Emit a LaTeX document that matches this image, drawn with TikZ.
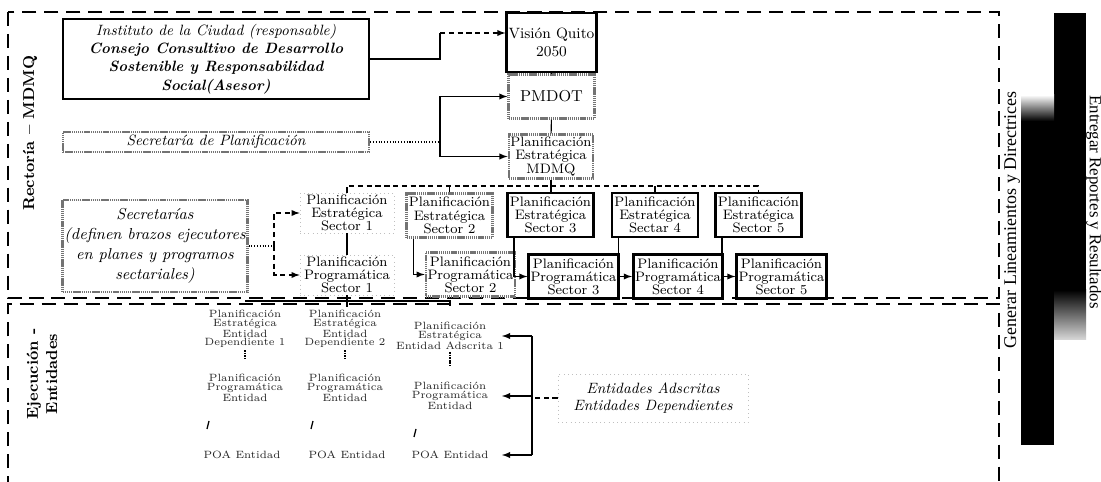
\documentclass[tikz,border=0pt]{standalone}
\usepackage{fontspec}
\newfontfamily\timesfont{Liberation Serif}
\begin{document}
\begin{tikzpicture}[x=0.02cm,y=-0.02cm,
  every node/.style={inner sep=1pt, align=center},
  marco/.style={line width=1.1pt, dash pattern=on 8pt off 4.5pt},
  caja/.style={draw, line width=1.6pt, minimum width=1.72cm, minimum height=0.88cm, font=\fontsize{7.8}{7.5}\selectfont},
  cajagris/.style={caja, draw=black!55, line width=1.3pt, dash pattern=on 0.8pt off 0.4pt},
  cajatenue/.style={caja, draw=black!25, line width=0.4pt, dotted},
  ent/.style={font=\fontsize{6}{4.9}\selectfont, text=black!85},
  linea/.style={line width=0.6pt}]

% fondo y marcos
\fill[white] (0,0) rectangle (1101,482);
\useasboundingbox (0,0) rectangle (1101,482);
\draw[marco] (8,12) rectangle (999,298);
\draw[marco] (8,490) -- (8,304) -- (999,304) -- (999,490);

% barra de la derecha
\fill[black] (1054,13) rectangle (1086,333);
\fill[black] (1021,120) rectangle (1054,445);
\shade[top color=white, bottom color=black] (1021,95) rectangle (1054,121);
\shade[top color=black, bottom color=black!15] (1054,290) rectangle (1086,340);
\node[rotate=90, font=\timesfont\fontsize{10.2}{12}\selectfont] (generar) at (1012,220) {Generar Lineamientos y Directrices};
\node[rotate=-90, font=\timesfont\fontsize{9.6}{12}\selectfont] (entregar) at (1094,202) {Entregar Reportes y Resultados};

% etiquetas laterales
\node[rotate=90, font=\bfseries\fontsize{9}{11}\selectfont] (rectoria) at (30,133) {Rectoría – MDMQ};
\node[rotate=90, font=\bfseries\fontsize{9}{11}\selectfont] (ejecucion) at (42,374) {Ejecución -\\Entidades};

% columna central
\node[caja, font=\fontsize{8.5}{9.8}\selectfont, minimum height=1.18cm] (vision) at (551.5,42.5) {Visión Quito\\2050};
\node[cajagris, font=\fontsize{9}{10}\selectfont] (pmdot) at (551.5,96.5) {PMDOT};
\node[cajagris, minimum width=1.68cm] (mdmq) at (551,156.5) {Planificación\\Estratégica\\MDMQ};

% cajas de la izquierda
\node[caja, minimum width=6.12cm, minimum height=1.6cm, font=\fontsize{8.5}{10.4}\selectfont] (inst) at (216,59)
  {\itshape Instituto de la Ciudad (responsable)\\ \bfseries\itshape Consejo Consultivo de Desarrollo\\
   \bfseries\itshape Sostenible y Responsabilidad\\ \bfseries\itshape Social(Asesor)};
\node[cajagris, minimum width=6.12cm, minimum height=0.4cm, font=\itshape\fontsize{8.5}{10}\selectfont] (secplan) at (216,142) {Secretaría de Planificación};
\node[cajagris, minimum width=3.68cm, minimum height=1.84cm, font=\itshape\fontsize{9}{11.3}\selectfont] (secs) at (155,246)
  {Secretarías\\(definen brazos ejecutores\\en planes y programos\\sectariales)};

% sectores
\node[cajatenue, minimum width=1.88cm, minimum height=0.8cm] (s1) at (347,213) {Planificación\\Estratégica\\Sector 1};
\node[cajatenue, minimum width=1.88cm, minimum height=0.76cm] (p1) at (347,275) {Planificación\\Programática\\Sector 1};
\node[cajagris] (s2) at (449.5,215.5) {Planificación\\Estratégica\\Sector 2};
\node[cajagris] (p2) at (470.5,274.5) {Planificación\\Programática\\Sector 2};
\foreach \n/\x/\etiq in {3/550.5/Sector 3,4/655/Sectar 4,5/758.5/Sector 5}{
  \node[caja] (s\n) at (\x,215) {Planificación\\Estratégica\\\etiq};
  \node[caja] (p\n) at (\x+23,276.5) {Planificación\\Programática\\Sector \n};
}

% conectores de arriba
\coordinate (codo1) at (440,33);
\coordinate (codo2) at (440,142);
\coordinate (codo3) at (274,246);
\coordinate (bus) at (551,186);
\draw[linea] (inst.east) -| (codo1);
\draw[linea, densely dashed, arrows=-latex] (codo1) -- (codo1 -| vision.west);
\draw[linea] (vision) -- (pmdot);
\draw[linea] (pmdot) -- (mdmq);
\draw[linea, densely dotted] (secplan.east) -- (codo2);
\draw[linea, arrows=-latex] (codo2) |- (pmdot.west);
\draw[linea, arrows=-latex] (codo2) |- (mdmq.west);
\draw[linea] (mdmq.south) -- (mdmq.south |- s3.north);
\draw[linea, densely dashed] (s1.north) |- (bus) -| (s5.north);
\foreach \n in {2,4}
  \draw[linea] (s\n.north) -- (s\n.north |- bus);
\foreach \n in {2,...,5}
  \draw[linea, arrows=-latex] ([xshift=4.5pt]s\n.south west) |- (p\n.west);
\draw[linea] (s1) -- (p1);
\draw[linea, densely dotted] (secs.east) -- (codo3);
\draw[linea, densely dashed, arrows=-latex] (codo3) |- (s1.west);
\draw[linea, densely dashed, arrows=-latex] (codo3) |- (p1.west);

% entidades
\node[ent] (est1) at (245,329) {Planificación\\Estratégica\\Entidad\\Dependiente 1};
\node[ent] (est2) at (345,329) {Planificación\\Estratégica\\Entidad\\Dependiente 2};
\node[ent] (est3) at (450,336) {Planificación\\Estratégica\\Entidad Adscrita 1};
\node[ent] (prg1) at (245,388) {Planificación\\Programática\\Entidad};
\node[ent] (prg2) at (345,388) {Planificación\\Programática\\Entidad};
\node[ent] (prg3) at (450,396) {Planificación\\Programática\\Entidad};
\node[ent] (poa1) at (242,455) {POA Entidad};
\node[ent] (poa2) at (347,455) {POA Entidad};
\node[ent] (poa3) at (450,455) {POA Entidad};
\foreach \k in {1,2,3}
  \draw[line width=0.9pt, dash pattern=on 1pt off 0.5pt, shorten >=8pt] (est\k) -- (prg\k);
\foreach \x/\y in {208/425,312/425,415/433}
  \draw[line width=0.7pt] (\x-1,\y+4) -- (\x+1,\y-4);

\coordinate (bus2) at (347,301);
\draw[linea] (p1.south) -- ++(0,12);
\draw[line width=0.9pt] (est1.north |- bus2) -- (est3.north |- bus2) -- ++(0,5);

\node[draw=black!25, dotted, minimum width=3.8cm, minimum height=0.96cm, font=\itshape\fontsize{8.5}{9.6}\selectfont] (entidades) at (653,398)
  {Entidades Adscritas\\Entidades Dependientes};
\coordinate (vx) at (532,398);
\coordinate (tipx) at (502,0);
\draw[linea, densely dashed] (entidades.west) -- (vx);
\draw[linea] (vx |- est3.east) -- (vx |- poa3.east);
\foreach \nd in {est3,prg3,poa3}
  \draw[linea, arrows=-latex] (vx |- \nd.east) -- (tipx |- \nd.east);
\end{tikzpicture}
\end{document}
